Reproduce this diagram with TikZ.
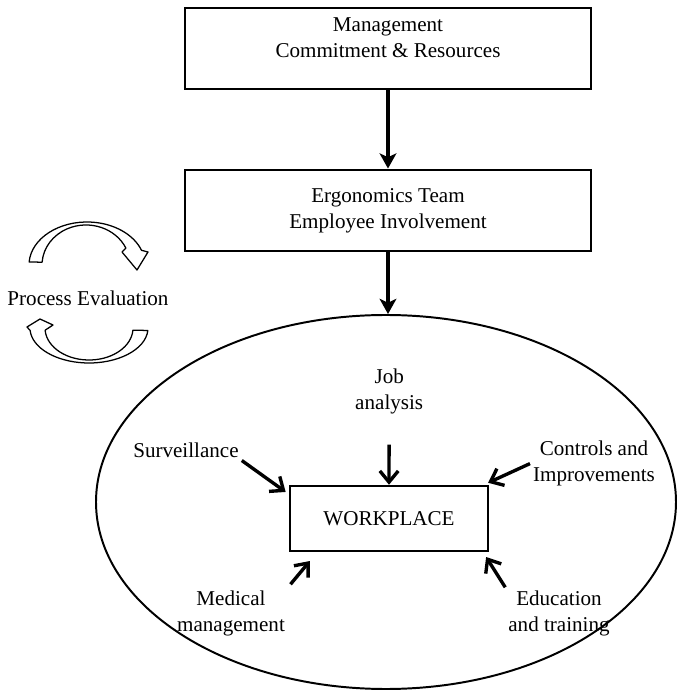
\documentclass[tikz,border=0pt]{standalone}
\usepackage{fontspec}
\setmainfont{Liberation Serif}
\usetikzlibrary{arrows.meta,positioning,shapes.geometric,calc}
\newcommand{\lblsize}{\fontsize{15}{18.5}\selectfont}
\tikzset{
  blk/.style={draw, rectangle, minimum height=2.03cm, minimum width=10.15cm, align=center, font=\lblsize, line width=1.8pt},
  wblk/.style={draw, rectangle, minimum height=1.625cm, minimum width=4.95cm, align=center, font=\lblsize, line width=1.6pt},
  lbl/.style={align=center, font=\lblsize, inner sep=2pt},
  zone/.style={draw, ellipse, minimum width=14.5cm, minimum height=9.35cm, line width=1.4pt},
  arr/.style={-{Stealth[length=3.8mm, width=4.2mm, inset=1mm]}, line width=2.3pt},
  sarr/.style={-{Straight Barb[length=2.8mm, width=4.6mm]}, line width=2.4pt},
  cyc/.style={draw, fill=white, line width=0.9pt, line join=round},
}

\begin{document}
\begin{tikzpicture}
\useasboundingbox (0,0) rectangle (16.925,17.25);

% Top of the chain
\node[blk] (mgmt) at (9.7,16.04) {};
\node[lbl] (mgmt-t) at ($(mgmt.center)+(0,0.27)$) {Management\\Commitment \& Resources};
\node[blk] (team) at (9.7,11.99) {Ergonomics Team\\Employee Involvement};

% Workplace zone
\node[zone] (zone) at (9.65,4.7) {};
\node[wblk] (wp) at (9.725,4.29) {WORKPLACE};

\draw[arr] (mgmt) -- (team);
\draw[arr] (team.south) -- (team.south |- zone.north);

% Program elements around the workplace
\node[lbl] (job) at (9.73,7.475) {Job\\analysis};
\node[lbl] (surv) at (4.65,6.0) {Surveillance};
\node[lbl] (ctrl) at (14.85,5.66) {Controls and\\Improvements};
\node[lbl] (med) at (5.775,1.925) {Medical\\management};
\node[lbl] (edu) at (13.975,1.925) {Education\\and training};

\draw[sarr, shorten <=0.7cm] (job) -- (wp.north);
\draw[sarr] (surv.south east) -- ([shift={(-0.08,-0.18)}]wp.north west);
\draw[sarr] (ctrl.west) -- ([shift={(-0.025,0.05)}]wp.north east);
\draw[sarr, shorten <=0.1cm] (med.north east) -- ([shift={(0.525,-0.225)}]wp.south west);
\draw[sarr] (edu.north west) -- ([shift={(-0.075,-0.125)}]wp.south east);

% Process evaluation cycle
\node[lbl] (eval) at (2.2,9.8) {Process Evaluation};
\draw[cyc] (0.7285,10.700) arc[start angle=176, end angle=20, x radius=1.45cm, y radius=1.075cm]
  -- (3.7,10.95) -- (3.425,10.5) -- (3.05,10.95) -- (3.147,11.048)
  arc[start angle=25, end angle=176, x radius=1.1cm, y radius=1cm] -- cycle;
\draw[cyc] (3.696,8.989) arc[start angle=-4, end angle=-176, x radius=1.475cm, y radius=0.875cm]
  -- (0.675,9.075) -- (1.0,9.275) -- (1.325,9.125) -- (1.128,8.994)
  arc[start angle=-176, end angle=-4, x radius=1.1cm, y radius=0.8cm] -- cycle;

\end{tikzpicture}
\end{document}
